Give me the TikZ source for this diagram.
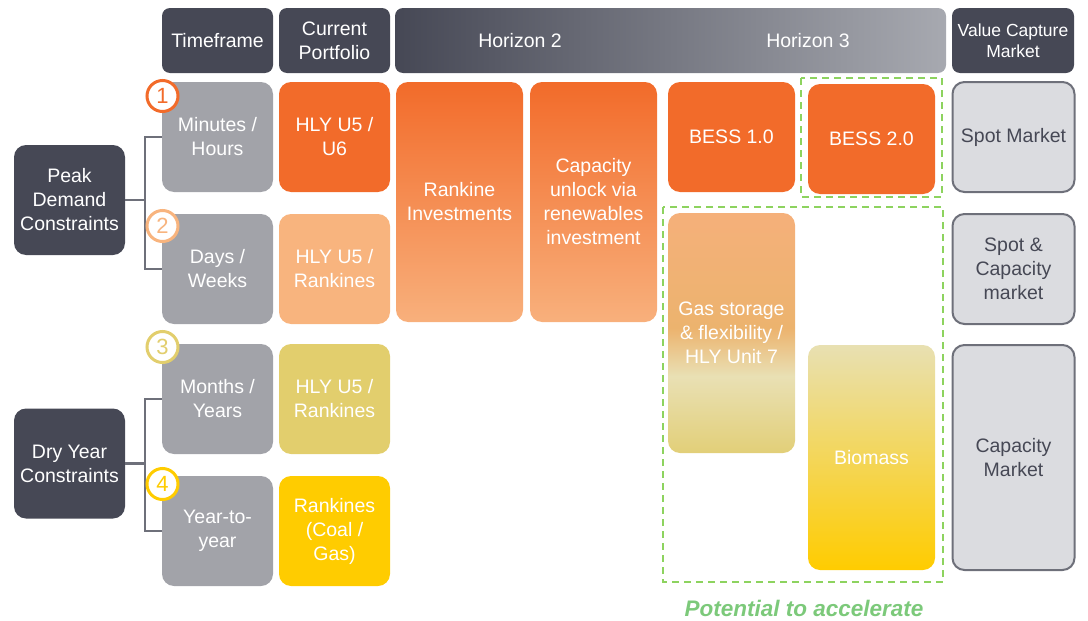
\documentclass[tikz,border=0pt]{standalone}
\usepackage{fontspec}
\setmainfont{Liberation Sans}
\usetikzlibrary{positioning,calc}
\definecolor{dark}{HTML}{464855}
\definecolor{tfgray}{HTML}{A2A3A9}
\definecolor{orng}{HTML}{F26B2A}
\definecolor{lorng}{HTML}{F8B47E}
\definecolor{khaki}{HTML}{E2CE6D}
\definecolor{yell}{HTML}{FFCC00}
\definecolor{vcfill}{HTML}{DBDCE0}
\definecolor{vcline}{HTML}{6E707A}
\definecolor{dgreen}{HTML}{8DD35F}
\definecolor{tgreen}{HTML}{7CC97A}
\definecolor{hlight}{HTML}{A7A9B0}
\definecolor{gA}{HTML}{F5B07A}
\definecolor{gB}{HTML}{ECB36E}
\definecolor{gC}{HTML}{E9E0B4}
\definecolor{gD}{HTML}{E2CF78}
\definecolor{bA}{HTML}{E8E0B2}
\definecolor{bB}{HTML}{ECC83A}
\definecolor{rA}{HTML}{F8B07C}
\definecolor{rM}{HTML}{F4834A}
\pgfdeclareverticalshading{gasshade}{100bp}{color(0bp)=(gD); color(25bp)=(gD); color(41bp)=(gC); color(51bp)=(gB); color(75bp)=(gA); color(100bp)=(gA)}
\tikzset{
  txt/.style={font=\fontsize{19.5}{24}\selectfont, align=center, inner sep=0},
  box/.style={txt, rounded corners=12, minimum width=111, minimum height=110},
  hdr/.style={txt, rounded corners=8, fill=dark, text=white, minimum width=111, minimum height=65},
  tf/.style={box, fill=tfgray, text=white},
  wide/.style={box, minimum width=127},
  vc/.style={box, fill=vcfill, draw=vcline, line width=2, text=dark, minimum width=122},
  conn/.style={draw=vcline, line width=2.5},
  numc/.style={circle, draw=#1, text=#1, fill=white, line width=3, minimum size=31, inner sep=0, font=\fontsize{22}{22}\selectfont},
  gdash/.style={draw=dgreen, line width=2, dash pattern=on 7 off 5}
}
\begin{document}
\begin{tikzpicture}[x=1pt,y=-1pt]
\useasboundingbox (0,0) rectangle (1088,621);
% headers
\node[hdr] (htf) at (217.5,40.5) {Timeframe};
\node[hdr] (hcp) at (334.5,40.5) {Current\\Portfolio};
\node[txt, rounded corners=8, left color=dark, right color=hlight, minimum width=551, minimum height=65] (hor) at (670.5,40.5) {};
\node[txt, text=white] (h2) at (520,41) {Horizon 2};
\node[txt, text=white] (h3) at (808,41) {Horizon 3};
\node[hdr, minimum width=122, font=\fontsize{17.5}{21}\selectfont] (hvc) at (1013,40.5) {Value Capture\\Market};
% constraints
\node[box, fill=dark, text=white] (peak) at (69.5,200) {Peak\\Demand\\Constraints};
\node[box, fill=dark, text=white] (dry) at (69.5,463.5) {Dry Year\\Constraints};
% timeframe
\node[tf] (mh) at (217.5,137) {Minutes /\\Hours};
\node[tf] (dw) at (217.5,269) {Days /\\Weeks};
\node[tf] (my) at (217.5,399) {Months /\\Years};
\node[tf] (yy) at (217.5,531) {Year-to-\\year};
% connectors
\draw[conn] (mh.west) -- ++(-17,0) |- (peak.east);
\draw[conn] (dw.west) -- ++(-17,0) |- (peak.east);
\draw[conn] (my.west) -- ++(-17,0) |- (dry.east);
\draw[conn] (yy.west) -- ++(-17,0) |- (dry.east);
% current portfolio
\node[box, fill=orng, text=white] (cp1) at (334.5,137) {HLY U5 /\\U6};
\node[box, fill=lorng, text=white] (cp2) at (334.5,269) {HLY U5 /\\Rankines};
\node[box, fill=khaki, text=white] (cp3) at (334.5,399) {HLY U5 /\\Rankines};
\node[box, fill=yell, text=white] (cp4) at (334.5,531) {Rankines\\(Coal /\\Gas)};
% numbers
\node[numc=orng] (n1) at (162.5,96) {1};
\node[numc=lorng] (n2) at (162.5,226) {2};
\node[numc=khaki] (n3) at (162.5,347) {3};
\node[numc=yell] (n4) at (162.5,484) {4};
% horizons
\node[wide, minimum height=240, top color=orng, middle color=rM, bottom color=rA, text=white] (rank) at (459.5,202) {Rankine\\Investments};
\node[wide, minimum height=240, top color=orng, middle color=rM, bottom color=rA, text=white] (cap) at (593.5,202) {Capacity\\unlock via\\renewables\\investment};
\node[wide, minimum height=110, fill=orng, text=white] (b1) at (731.5,137) {BESS 1.0};
\node[wide, minimum height=110, fill=orng, text=white] (b2) at (871.5,139) {BESS 2.0};
\node[wide, minimum height=240, shading=gasshade, text=white] (gas) at (731.5,333) {};
\node[txt, text=white] (gastxt) at (731.5,333) {Gas storage\\\& flexibility /\\HLY Unit 7};
\node[wide, minimum height=225, top color=bA, middle color=bB, bottom color=yell, text=white] (bio) at (871.5,457.5) {Biomass};
% dashed
\draw[gdash] (801,78) rectangle (942,197);
\draw[gdash] (663,207) rectangle (943,582);
\node[txt, text=tgreen, font=\fontsize{22.5}{26}\selectfont\bfseries\itshape] (pot) at (804,608) {Potential to accelerate};
% value capture
\node[vc] (spot) at (1013.5,137) {Spot Market};
\node[vc] (spc) at (1013.5,269) {Spot \&\\Capacity\\market};
\node[vc, minimum height=225] (capm) at (1013.5,457.5) {Capacity\\Market};
\end{tikzpicture}
\end{document}
